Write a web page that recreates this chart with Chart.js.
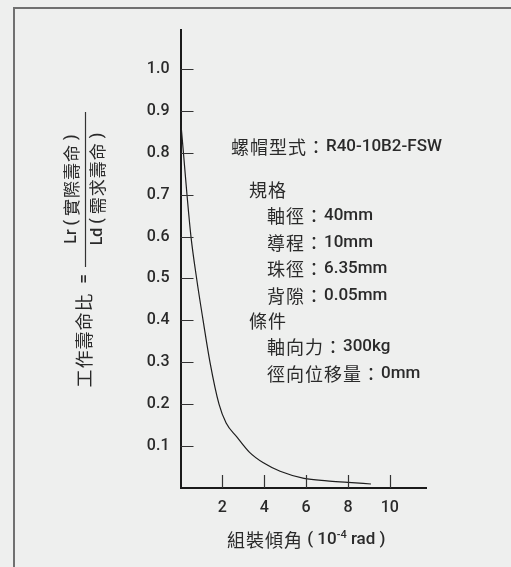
<!DOCTYPE html>
<html>
<head>
<meta charset="utf-8">
<script src="https://cdn.jsdelivr.net/npm/chart.js@4.4.1/dist/chart.umd.min.js"></script>
<style>
  html, body { margin: 0; padding: 0; background: #eeefee; }
  #wrap { position: relative; width: 511px; height: 567px; overflow: hidden; }
  canvas { display: block; }
</style>
</head>
<body>
<div id="wrap"><canvas id="c" width="511" height="567"></canvas></div>
<script>
// ---- data ----
const angleValues = [0, 0.14, 0.31, 0.5, 0.77, 1.08, 1.41, 1.84, 2.18, 2.69, 3.3, 3.96, 4.76, 5.9, 7.0, 8.0, 9.1];
const lifeRatioValues = [0.88, 0.80, 0.70, 0.60, 0.50, 0.40, 0.30, 0.20, 0.155, 0.122, 0.085, 0.06, 0.04, 0.023, 0.017, 0.0136, 0.0095];
const xTickValues = [2, 4, 6, 8, 10];
const yTickValues = [0.1, 0.2, 0.3, 0.4, 0.5, 0.6, 0.7, 0.8, 0.9, 1.0];
const yTickLabels = ['0.1', '0.2', '0.3', '0.4', '0.5', '0.6', '0.7', '0.8', '0.9', '1.0'];
const xTitleMain = '組裝傾角 ( 10';
const xTitleSup = '-4';
const xTitleEnd = ' rad )';
const yTitleLeft = '工作壽命比';
const yTitleEq = '=';
const yTitleNum = 'Lr ( 實際壽命 )';
const yTitleDen = 'Ld ( 需求壽命 )';
const noteLines = [
  { text: '螺帽型式：R40-10B2-FSW', indent: 0 },
  { text: '規格', indent: 1 },
  { text: '軸徑：40mm', indent: 2 },
  { text: '導程：10mm', indent: 2 },
  { text: '珠徑：6.35mm', indent: 2 },
  { text: '背隙：0.05mm', indent: 2 },
  { text: '條件', indent: 1 },
  { text: '軸向力：300kg', indent: 2 },
  { text: '徑向位移量：0mm', indent: 2 }
];

const points = angleValues.map((x, i) => ({ x: x, y: lifeRatioValues[i] }));

const TEXT = '#2a2a2a';
const CJK_RE = /[\u3000-\u9fff\uff00-\uffef]/;

function runs(text) {
  const out = [];
  for (const ch of text) {
    const cjk = CJK_RE.test(ch);
    if (out.length && out[out.length - 1].cjk === cjk) out[out.length - 1].t += ch;
    else out.push({ t: ch, cjk: cjk });
  }
  return out;
}
function setFont(ctx, cjk, size) {
  if (cjk) {
    ctx.font = '400 ' + (size + 1) + 'px "Noto Sans CJK TC", "Noto Sans CJK SC", sans-serif';
    ctx.letterSpacing = '1px';
  } else {
    ctx.font = '500 ' + size + 'px Roboto, "DejaVu Sans", sans-serif';
    ctx.letterSpacing = '0px';
  }
}
function measureMixed(ctx, text, size) {
  let w = 0;
  for (const r of runs(text)) { setFont(ctx, r.cjk, size); w += ctx.measureText(r.t).width; }
  return w;
}
function drawMixed(ctx, text, x, y, size, align) {
  let cx = x;
  if (align === 'center') cx = x - measureMixed(ctx, text, size) / 2;
  ctx.textAlign = 'left';
  ctx.textBaseline = 'middle';
  for (const r of runs(text)) {
    setFont(ctx, r.cjk, size);
    ctx.fillText(r.t, cx, y);
    cx += ctx.measureText(r.t).width;
  }
  ctx.letterSpacing = '0px';
  return cx;
}

const deco = {
  id: 'deco',
  beforeDraw(chart) {
    const ctx = chart.ctx;
    ctx.save();
    ctx.fillStyle = '#eeefee';
    ctx.fillRect(0, 0, chart.width, chart.height);
    ctx.strokeStyle = '#707070';
    ctx.lineWidth = 2;
    ctx.beginPath();
    ctx.moveTo(14, chart.height + 5);
    ctx.lineTo(14, 8);
    ctx.lineTo(chart.width + 5, 8);
    ctx.stroke();
    ctx.restore();
  },
  afterDraw(chart) {
    const ctx = chart.ctx;
    const xs = chart.scales.x, ys = chart.scales.y;
    const x0 = xs.getPixelForValue(0), y0 = ys.getPixelForValue(0);
    ctx.save();
    // inward tick marks
    ctx.strokeStyle = '#333';
    ctx.lineWidth = 1.2;
    ctx.beginPath();
    yTickValues.forEach(v => {
      const py = Math.round(ys.getPixelForValue(v)) + 0.5;
      ctx.moveTo(x0, py); ctx.lineTo(x0 + 13, py);
    });
    xTickValues.forEach(v => {
      const px = Math.round(xs.getPixelForValue(v)) + 0.5;
      ctx.moveTo(px, y0); ctx.lineTo(px, y0 - 13);
    });
    ctx.stroke();

    ctx.fillStyle = TEXT;
    // x title
    const cx = (xs.left + xs.right) / 2 + 3;
    const ty = 540;
    ctx.font = '500 11px Roboto, sans-serif';
    const supW = ctx.measureText(xTitleSup).width;
    const total = measureMixed(ctx, xTitleMain, 17) + supW + measureMixed(ctx, xTitleEnd, 17);
    let px = cx - total / 2;
    px = drawMixed(ctx, xTitleMain, px, ty, 17, 'left');
    ctx.font = '500 11px Roboto, sans-serif';
    ctx.textBaseline = 'middle';
    ctx.fillText(xTitleSup, px, ty - 5);
    px += supW;
    drawMixed(ctx, xTitleEnd, px, ty, 17, 'left');

    // y title (rotated)
    const rot = (text, x, y, size) => {
      ctx.save();
      ctx.translate(x, y);
      ctx.rotate(-Math.PI / 2);
      drawMixed(ctx, text, 0, 0, size, 'center');
      ctx.restore();
    };
    rot(yTitleLeft, 84, 340, 17);
    rot(yTitleEq, 85, 279, 17);
    rot(yTitleNum, 72, 189, 16);
    rot(yTitleDen, 98, 189, 16);
    ctx.strokeStyle = '#333';
    ctx.lineWidth = 1.2;
    ctx.beginPath();
    ctx.moveTo(85.5, 112); ctx.lineTo(85.5, 267);
    ctx.stroke();

    // annotation block
    const indents = [231, 249, 267];
    const lineY = [147, 190, 216, 243, 269, 296, 321, 347, 374];
    noteLines.forEach((ln, i) => {
      drawMixed(ctx, ln.text, indents[ln.indent], lineY[i], 17, 'left');
    });
    ctx.restore();
  }
};

new Chart(document.getElementById('c'), {
  type: 'line',
  data: {
    datasets: [{
      data: points,
      borderColor: '#1e1e1e',
      borderWidth: 1.2,
      pointRadius: 0,
      fill: false,
      cubicInterpolationMode: 'monotone'
    }]
  },
  options: {
    responsive: false,
    devicePixelRatio: 1,
    animation: false,
    layout: { padding: { left: 0, right: 85, top: 30, bottom: 0 } },
    plugins: { legend: { display: false }, tooltip: { enabled: false } },
    scales: {
      x: {
        type: 'linear',
        min: 0,
        max: 11.73,
        grid: { display: false, drawTicks: false },
        border: { display: true, color: '#1a1a1a', width: 2 },
        afterBuildTicks: s => { s.ticks = xTickValues.map(v => ({ value: v })); },
        afterFit: s => { s.height = 79; },
        ticks: {
          autoSkip: false,
          maxRotation: 0,
          padding: 10,
          color: TEXT,
          font: { family: 'Roboto', size: 16, weight: '500' },
          callback: v => String(v)
        }
      },
      y: {
        type: 'linear',
        min: 0,
        max: 1.093,
        grid: { display: false, drawTicks: false },
        border: { display: true, color: '#1a1a1a', width: 2 },
        afterBuildTicks: s => { s.ticks = yTickValues.map(v => ({ value: v })); },
        afterFit: s => { s.width = 180.5; },
        ticks: {
          autoSkip: false,
          padding: 11,
          color: TEXT,
          font: { family: 'Roboto', size: 16, weight: '500' },
          callback: (v, i) => yTickLabels[i]
        }
      }
    }
  },
  plugins: [deco]
});
</script>
</body>
</html>
